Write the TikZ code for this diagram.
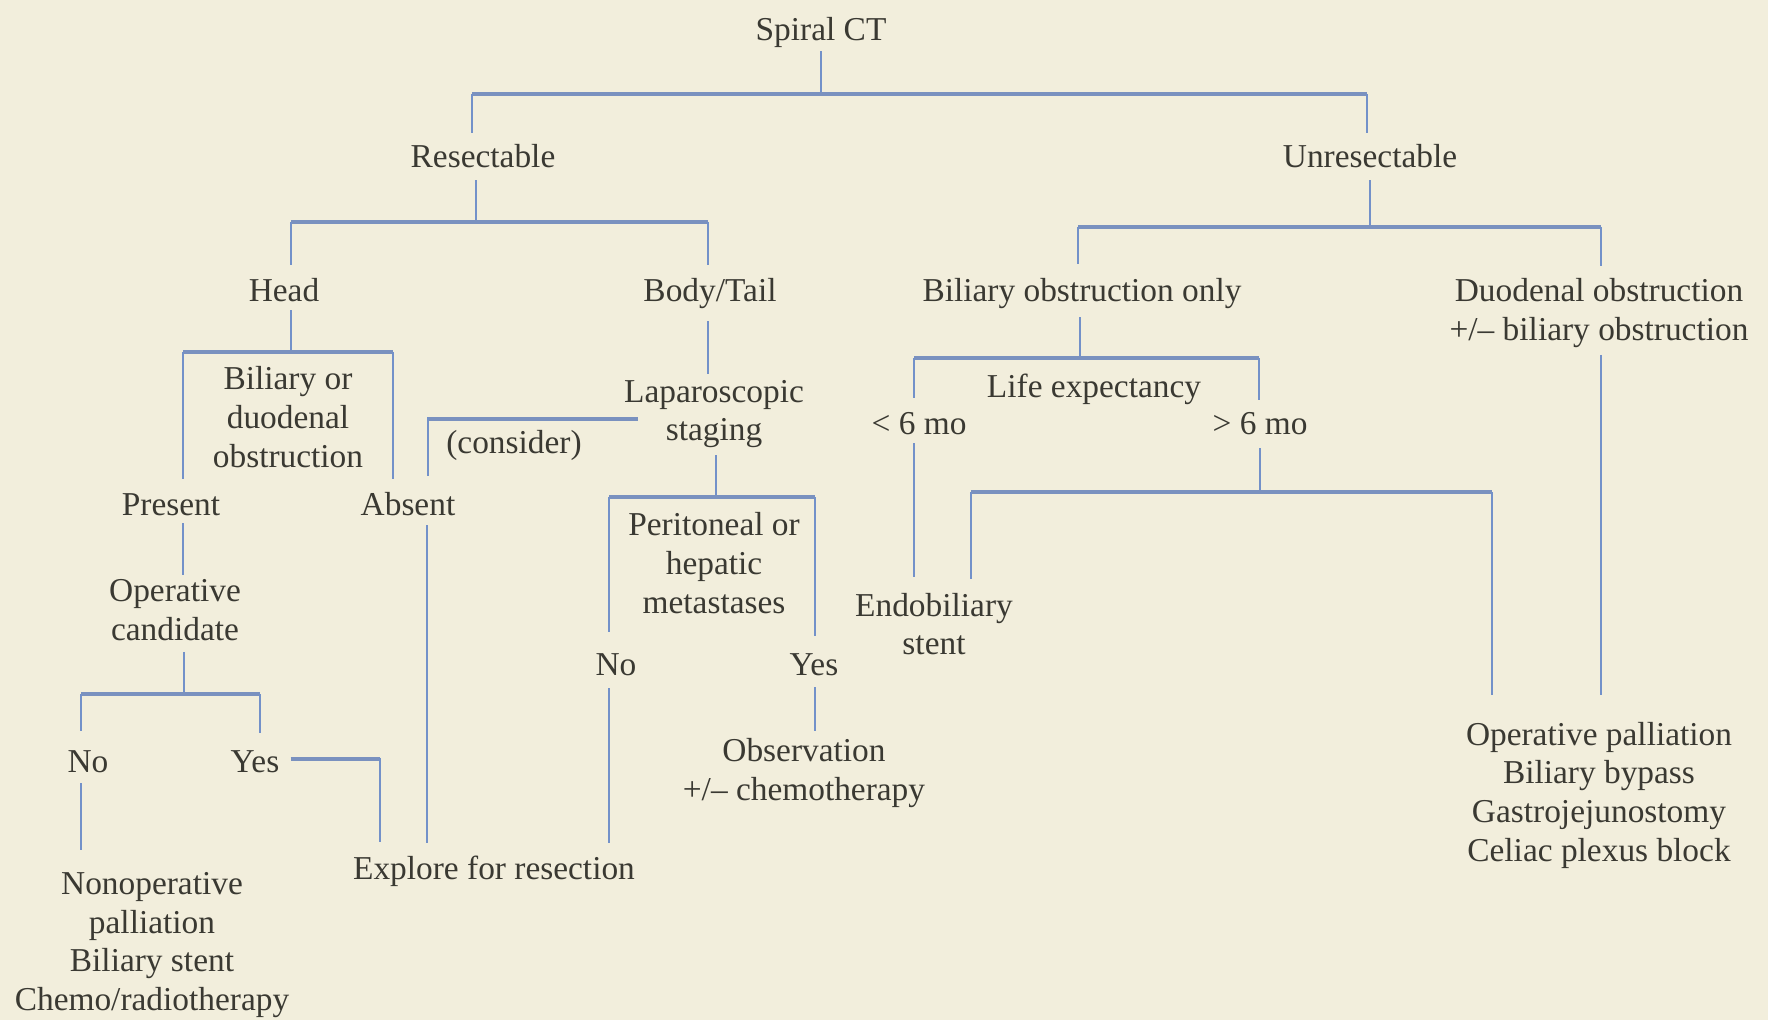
\documentclass[tikz,border=0pt]{standalone}
\usepackage{fontspec}
\setmainfont{Liberation Serif}
\usetikzlibrary{calc}
\definecolor{bg}{HTML}{F2EEDC}
\definecolor{ln}{HTML}{7391C9}
\definecolor{barc}{HTML}{7A91BF}
\definecolor{tx}{HTML}{3A3932}
\begin{document}
\begin{tikzpicture}[x=0.02cm,y=-0.02cm,
  one/.style={font=\fontsize{19}{22}\selectfont, text=tx, inner sep=0pt, anchor=base, text height=13.6pt, text depth=4pt},
  multi/.style={font=\fontsize{19}{22}\selectfont, text=tx, inner sep=0pt, align=center, anchor=center},
  vl/.style={draw=ln, line width=1.5pt},
  hl/.style={draw=barc, line width=2.5pt},
]
\fill[bg] (0,0) rectangle (1768,1020);
\useasboundingbox (0,0) rectangle (1768,1020);

% nodes
\node[one] (ct) at (821,41) {Spiral CT};
\node[one] (res) at (483,168) {Resectable};
\node[one] (unres) at (1370,168) {Unresectable};
\node[one] (head) at (284,302) {Head};
\node[one] (body) at (710,302) {Body/Tail};
\node[multi] (obs1) at (288,417) {Biliary or\\duodenal\\obstruction};
\node[one] (present) at (171,515) {Present};
\node[one] (absent) at (408,515) {Absent};
\node[multi] (opc) at (175,610) {Operative\\candidate};
\node[one] (no1) at (88,772) {No};
\node[one] (yes1) at (255,772) {Yes};
\node[multi] (nonop) at (152,945) {Nonoperative\\palliation\\Biliary stent\\Chemo/radiotherapy};
\node[one] (explore) at (494,879) {Explore for resection};
\node[one] (consider) at (514,454) {(consider)};
\node[multi] (lap) at (714,414) {Laparoscopic\\staging};
\node[multi] (perit) at (714,563) {Peritoneal or\\hepatic\\metastases};
\node[one] (no2) at (616,675) {No};
\node[one] (yes2) at (814,675) {Yes};
\node[multi] (obsv) at (804,773) {Observation\\+/– chemotherapy};
\node[one] (bil) at (1082,302) {Biliary obstruction only};
\node[multi] (duod) at (1599,313) {Duodenal obstruction\\+/– biliary obstruction};
\node[one] (life) at (1094,398) {Life expectancy};
\node[one] (lt6) at (919,435) {< 6 mo};
\node[one] (gt6) at (1260,435) {> 6 mo};
\node[multi] (endo) at (934,624) {Endobiliary\\stent};
\node[multi] (oppal) at (1599,795) {Operative palliation\\Biliary bypass\\Gastrojejunostomy\\Celiac plexus block};

% Spiral CT split
\coordinate (j0) at (821,94);
\coordinate (b0L) at (472,94);
\coordinate (b0R) at (1367,94);
\draw[vl] ($(ct.south)+(0,3)$) -- (j0);
\draw[hl] (b0L) -- (b0R);
\draw[vl] (b0L) -- ($(b0L |- res.north)+(0,-11)$);
\draw[vl] (b0R) -- ($(b0R |- unres.north)+(0,-11)$);

% Resectable split
\coordinate (j1) at (476,222);
\coordinate (b1L) at (291,222);
\coordinate (b1R) at (708,222);
\draw[vl] ($(j1 |- res.south)+(0,5)$) -- (j1);
\draw[hl] (b1L) -- (b1R);
\draw[vl] (b1L) -- ($(b1L |- head.north)+(0,-13)$);
\draw[vl] (b1R) -- ($(b1R |- body.north)+(0,-13)$);

% Head split
\coordinate (j2) at (291,352);
\coordinate (b2L) at (183,352);
\coordinate (b2R) at (393,352);
\draw[vl] ($(j2 |- head.south)+(0,1)$) -- (j2);
\draw[hl] (b2L) -- (b2R);
\draw[vl] (b2L) -- ($(b2L |- present.north)+(0,-12)$);
\draw[vl] (b2R) -- ($(b2R |- absent.north)+(0,-12)$);

% Present -> Operative candidate
\draw[vl] ($(b2L |- present.south)+(0,1)$) -- ($(b2L |- opc.north)+(0,-4)$);

% Operative candidate split
\coordinate (j3) at (184,694);
\coordinate (b3L) at (81,694);
\coordinate (b3R) at (260,694);
\draw[vl] ($(j3 |- opc.south)+(0,11)$) -- (j3);
\draw[hl] (b3L) -- (b3R);
\draw[vl] (b3L) -- ($(b3L |- no1.north)+(0,-17)$);
\draw[vl] (b3R) -- ($(b3R |- yes1.north)+(0,-15)$);

% No -> Nonoperative palliation
\draw[vl] ($(b3L |- no1.south)+(0,4)$) -- ($(b3L |- nonop.north)+(0,-22)$);

% Yes -> Explore
\coordinate (yJ) at (380,759);
\draw[hl] ($(yes1.east |- yJ)+(11,0)$) -- (yJ);
\draw[vl] ($(yJ)+(0,-1.5)$) -- ($(yJ |- explore.north)+(0,-13)$);

% Absent -> Explore
\draw[vl] ($(absent.south)+(19,3)$) -- ($(absent.south |- explore.north)+(19,-12)$);

% Body/Tail -> Laparoscopic staging
\draw[vl] ($(b1R |- body.south)+(0,12)$) -- ($(b1R |- lap.north)+(0,-6)$);

% Laparoscopic staging -> (consider) -> Absent
\coordinate (cJ) at (428,419);
\draw[hl] ($(lap.west |- cJ)+(14,0)$) -- (cJ);
\draw[vl] ($(cJ)+(0,-1.5)$) -- ($(cJ |- absent.north)+(0,-15)$);

% Laparoscopic staging split
\coordinate (j4) at (716,497);
\coordinate (b4L) at (609,497);
\coordinate (b4R) at (815,497);
\draw[vl] ($(j4 |- lap.south)+(0,7)$) -- (j4);
\draw[hl] (b4L) -- (b4R);
\draw[vl] (b4L) -- ($(b4L |- no2.north)+(0,-19)$);
\draw[vl] (b4R) -- ($(b4R |- yes2.north)+(0,-15)$);

% No -> Explore ; Yes -> Observation
\draw[vl] ($(b4L |- no2.south)+(0,6)$) -- ($(b4L |- explore.north)+(0,-12)$);
\draw[vl] ($(b4R |- yes2.south)+(0,5)$) -- ($(b4R |- obsv.north)+(0,-7)$);

% Unresectable split
\coordinate (j5) at (1370,227);
\coordinate (b5L) at (1078,227);
\coordinate (b5R) at (1601,227);
\draw[vl] ($(j5 |- unres.south)+(0,5)$) -- (j5);
\draw[hl] (b5L) -- (b5R);
\draw[vl] (b5L) -- ($(b5L |- bil.north)+(0,-14)$);
\draw[vl] (b5R) -- ($(b5R |- duod.north)+(0,-12)$);

% Biliary obstruction only split
\coordinate (j6) at (1080,358);
\coordinate (b6L) at (914,358);
\coordinate (b6R) at (1259,358);
\draw[vl] ($(j6 |- bil.south)+(0,8)$) -- (j6);
\draw[hl] (b6L) -- (b6R);
\draw[vl] (b6L) -- ($(b6L |- lt6.north)+(0,-13)$);
\draw[vl] (b6R) -- ($(b6R |- gt6.north)+(0,-11)$);

% < 6 mo -> Endobiliary stent
\draw[vl] ($(b6L |- lt6.south)+(0,1)$) -- ($(b6L |- endo.north)+(0,-16)$);

% > 6 mo split
\coordinate (j7) at (1260,492);
\coordinate (b7L) at (971,492);
\coordinate (b7R) at (1492,492);
\draw[vl] ($(j7 |- gt6.south)+(0,6)$) -- (j7);
\draw[hl] (b7L) -- (b7R);
\draw[vl] (b7L) -- ($(b7L |- endo.north)+(0,-14)$);
\draw[vl] (b7R) -- ($(b7R |- oppal.north)+(0,-27)$);

% Duodenal obstruction -> Operative palliation
\draw[vl] ($(b5R |- duod.south)+(0,7)$) -- ($(b5R |- oppal.north)+(0,-27)$);
\end{tikzpicture}
\end{document}
